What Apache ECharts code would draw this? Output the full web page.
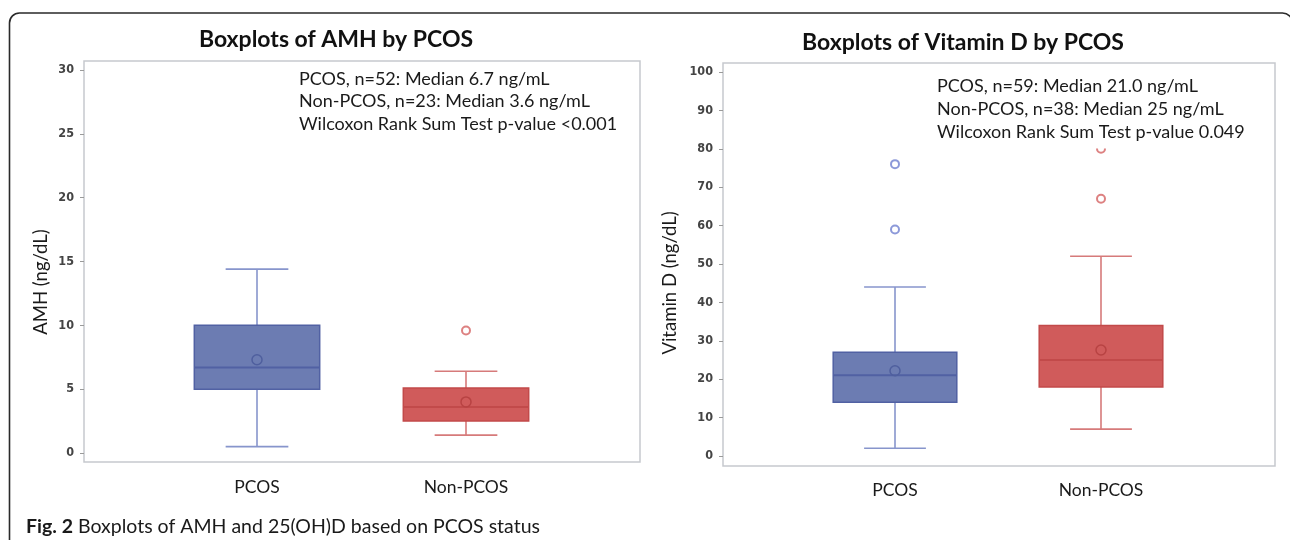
<!DOCTYPE html>
<html>
<head>
<meta charset="utf-8">
<script src="https://cdn.jsdelivr.net/npm/echarts@6/dist/echarts.min.js"></script>
<style>
html,body{margin:0;padding:0;background:#fff;}
#main{width:1290px;height:540px;}
</style>
</head>
<body>
<div id="main"></div>
<script>
// ---------- data ----------
const categories = ['PCOS', 'Non-PCOS'];

// AMH (ng/dL)
const amhLow    = [0.5, 1.4];
const amhQ1     = [5.0, 2.5];
const amhMedian = [6.7, 3.6];
const amhQ3     = [10.0, 5.1];
const amhHigh   = [14.4, 6.4];
const amhMean   = [7.3, 4.0];
const amhOutliersPCOS = [];
const amhOutliersNon  = [9.6];
const amhTicks = [0, 5, 10, 15, 20, 25, 30];

// Vitamin D (ng/dL)
const vitLow    = [2.0, 7.0];
const vitQ1     = [14.0, 18.0];
const vitMedian = [21.0, 25.0];
const vitQ3     = [27.0, 34.0];
const vitHigh   = [44.0, 52.0];
const vitMean   = [22.2, 27.6];
const vitOutliersPCOS = [76, 59];
const vitOutliersNon  = [67, 80];
const vitTicks = [0, 10, 20, 30, 40, 50, 60, 70, 80, 90, 100];

const amhNotes = [
  'PCOS, n=52: Median 6.7 ng/mL',
  'Non-PCOS, n=23: Median 3.6 ng/mL',
  'Wilcoxon Rank Sum Test p-value <0.001'
];
const vitNotes = [
  'PCOS, n=59: Median 21.0 ng/mL',
  'Non-PCOS, n=38: Median 25 ng/mL',
  'Wilcoxon Rank Sum Test p-value 0.049'
];

// ---------- styles ----------
const palette = [
  { fill: '#6c7cb2', edge: '#5161a3', whisker: '#8795cc', mean: '#4f5f9e', out: '#6f80cf' },
  { fill: '#d05b5b', edge: '#c24a4a', whisker: '#d67a7a', mean: '#b84343', out: '#d46262' }
];
const FONT = 'Lato, "Open Sans", sans-serif';
const TICKFONT = '"Liberation Sans Narrow", "DejaVu Sans Condensed", sans-serif';

function boxRows(low, q1, med, q3, high, mean) {
  return categories.map((c, i) => [i, low[i], q1[i], med[i], q3[i], high[i], mean[i]]);
}

function renderBox(params, api) {
  const i = api.value(0);
  const pal = palette[i];
  const band = api.size([1, 0])[0];
  const cx = api.coord([i, 0])[0];
  const yLow = api.coord([i, api.value(1)])[1];
  const yQ1 = api.coord([i, api.value(2)])[1];
  const yMed = api.coord([i, api.value(3)])[1];
  const yQ3 = api.coord([i, api.value(4)])[1];
  const yHigh = api.coord([i, api.value(5)])[1];
  const yMean = api.coord([i, api.value(6)])[1];
  const hw = band * 0.3;
  const cw = band * 0.15;
  const wStyle = { stroke: pal.whisker, lineWidth: 1.6 };
  return {
    type: 'group',
    children: [
      { type: 'line', shape: { x1: cx, y1: yHigh, x2: cx, y2: yQ3 }, style: wStyle },
      { type: 'line', shape: { x1: cx, y1: yQ1, x2: cx, y2: yLow }, style: wStyle },
      { type: 'line', shape: { x1: cx - cw, y1: yHigh, x2: cx + cw, y2: yHigh }, style: wStyle },
      { type: 'line', shape: { x1: cx - cw, y1: yLow, x2: cx + cw, y2: yLow }, style: wStyle },
      { type: 'rect', shape: { x: cx - hw, y: yQ3, width: hw * 2, height: yQ1 - yQ3 },
        style: { fill: pal.fill, stroke: pal.edge, lineWidth: 1.5 } },
      { type: 'line', shape: { x1: cx - hw, y1: yMed, x2: cx + hw, y2: yMed },
        style: { stroke: pal.edge, lineWidth: 2 } },
      { type: 'circle', shape: { cx: cx, cy: yMean, r: 5 },
        style: { fill: 'none', stroke: pal.mean, lineWidth: 1.5 } }
    ]
  };
}

function outlierSeries(gridIdx, catIdx, values) {
  return {
    type: 'scatter', xAxisIndex: gridIdx, yAxisIndex: gridIdx,
    symbol: 'emptyCircle', symbolSize: 8, z: 5,
    itemStyle: { color: palette[catIdx].out, borderWidth: 1.5 },
    data: values.map(v => [catIdx, v])
  };
}

// layout
const frames = [
  { left: 84, top: 61, width: 556, height: 401 },
  { left: 723, top: 63, width: 552, height: 403 }
];
const dataGrids = [
  { left: 152.5, top: 70, width: 418, height: 383 },
  { left: 792, top: 72, width: 412, height: 384 }
];

function valueAxis(gridIndex, max, interval, offset) {
  return {
    type: 'value', gridIndex: gridIndex, min: 0, max: max, interval: interval,
    offset: offset,
    axisLine: { show: false },
    axisTick: { show: true, length: 4, lineStyle: { color: '#9a9a9a' } },
    splitLine: { show: false },
    axisLabel: { margin: 10, color: '#444', fontFamily: TICKFONT, fontWeight: 'bold', fontSize: 12.5 }
  };
}
function catAxis(gridIndex) {
  return {
    type: 'category', gridIndex: gridIndex, data: categories,
    axisLine: { show: false }, axisTick: { show: false },
    axisLabel: { margin: 25, color: '#1a1a1a', fontFamily: FONT, fontSize: 17.5 }
  };
}
function hiddenAxis(type, gridIndex) {
  return { type: type, gridIndex: gridIndex, show: false, min: 0, max: 1 };
}

const option = {
  animation: false,
  grid: [
    Object.assign({ show: true, borderColor: '#c6c9ce', borderWidth: 1.5, backgroundColor: 'transparent' }, frames[0]),
    Object.assign({ show: true, borderColor: '#c6c9ce', borderWidth: 1.5, backgroundColor: 'transparent' }, frames[1]),
    dataGrids[0],
    dataGrids[1]
  ],
  xAxis: [
    hiddenAxis('value', 0), hiddenAxis('value', 1),
    catAxis(2), catAxis(3)
  ],
  yAxis: [
    hiddenAxis('value', 0), hiddenAxis('value', 1),
    valueAxis(2, amhTicks[amhTicks.length - 1], amhTicks[1] - amhTicks[0], dataGrids[0].left - frames[0].left),
    valueAxis(3, vitTicks[vitTicks.length - 1], vitTicks[1] - vitTicks[0], dataGrids[1].left - frames[1].left)
  ],
  series: [
    {
      type: 'custom', xAxisIndex: 2, yAxisIndex: 2, renderItem: renderBox,
      encode: { x: 0, y: [1, 2, 3, 4, 5, 6] },
      data: boxRows(amhLow, amhQ1, amhMedian, amhQ3, amhHigh, amhMean)
    },
    outlierSeries(2, 0, amhOutliersPCOS),
    outlierSeries(2, 1, amhOutliersNon),
    {
      type: 'custom', xAxisIndex: 3, yAxisIndex: 3, renderItem: renderBox,
      encode: { x: 0, y: [1, 2, 3, 4, 5, 6] },
      data: boxRows(vitLow, vitQ1, vitMedian, vitQ3, vitHigh, vitMean)
    },
    outlierSeries(3, 0, vitOutliersPCOS),
    outlierSeries(3, 1, vitOutliersNon)
  ],
  graphic: [
    { type: 'rect', z: 50, silent: true,
      shape: { x: 9.5, y: 13, width: 1283, height: 620, r: 10 },
      style: { fill: 'none', stroke: '#2a2a2a', lineWidth: 1.6 } },
    { type: 'text', z: 50, x: 336, y: 40,
      style: { text: 'Boxplots of AMH by PCOS', font: 'bold 23px ' + FONT, fill: '#111',
               textAlign: 'center', textVerticalAlign: 'middle' } },
    { type: 'text', z: 50, x: 963, y: 43,
      style: { text: 'Boxplots of Vitamin D by PCOS', font: 'bold 23px ' + FONT, fill: '#111',
               textAlign: 'center', textVerticalAlign: 'middle' } },
    { type: 'text', z: 50, x: 299, y: 67.5,
      style: { text: amhNotes.join('\n'), font: '18px ' + FONT, fill: '#1a1a1a', lineHeight: 22.5,
               textAlign: 'left', textVerticalAlign: 'top' } },
    { type: 'text', z: 50, x: 937, y: 74.5,
      style: { text: vitNotes.join('\n'), font: '18px ' + FONT, fill: '#1a1a1a', lineHeight: 23,
               textAlign: 'left', textVerticalAlign: 'top',
               backgroundColor: '#fff', padding: [0, 0, 5, 0] } },
    { type: 'text', z: 50, x: 41, y: 282, rotation: Math.PI / 2,
      style: { text: 'AMH (ng/dL)', font: '18.5px ' + FONT, fill: '#1a1a1a',
               textAlign: 'center', textVerticalAlign: 'middle' } },
    { type: 'text', z: 50, x: 670, y: 283, rotation: Math.PI / 2,
      style: { text: 'Vitamin D (ng/dL)', font: '18.5px ' + FONT, fill: '#1a1a1a',
               textAlign: 'center', textVerticalAlign: 'middle' } },
    { type: 'text', z: 50, x: 26, y: 527,
      style: { text: '{b|Fig. 2} Boxplots of AMH and 25(OH)D based on PCOS status',
               font: '19.5px ' + FONT, fill: '#1a1a1a', textAlign: 'left', textVerticalAlign: 'middle',
               rich: { b: { fontWeight: 'bold', fontSize: 19.5, fontFamily: FONT, fill: '#1a1a1a' } } } }
  ]
};

const chart = echarts.init(document.getElementById('main'), null, { renderer: 'canvas' });
chart.setOption(option);
</script>
</body>
</html>
